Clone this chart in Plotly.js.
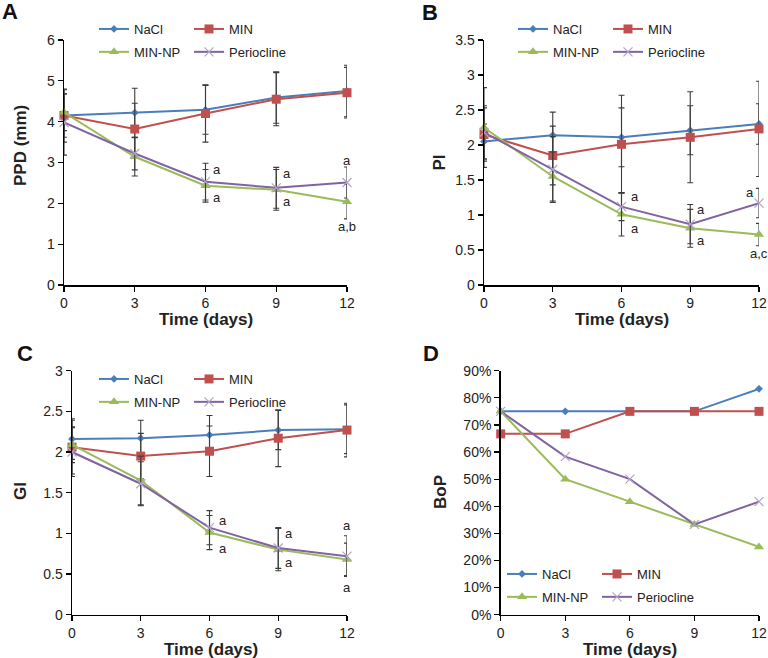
<!DOCTYPE html>
<html>
<head>
<meta charset="utf-8">
<script src="https://cdn.plot.ly/plotly-3.0.1.min.js"></script>
<style>html,body{margin:0;padding:0;background:#fff;}#chart{width:768px;height:658px;}</style>
</head>
<body>
<div id="chart"></div>
<script>
// ---------- data ----------
const days = [0, 3, 6, 9, 12];
const seriesNames = ['NaCl', 'MIN', 'MIN-NP', 'Periocline'];
const xTitle = 'Time (days)';
const yTitles = ['PPD (mm)', 'PI', 'GI', 'BoP'];
const panelLetters = ['A', 'B', 'C', 'D'];

// Panel A: PPD (mm)
const ppdNaCl  = [4.15, 4.22, 4.29, 4.59, 4.75];
const ppdMIN   = [4.15, 3.82, 4.20, 4.55, 4.71];
const ppdNP    = [4.23, 3.14, 2.43, 2.33, 2.04];
const ppdPerio = [3.98, 3.22, 2.53, 2.38, 2.51];
const ppdNaClErr  = [0.65, 0.60, 0.60, 0.63, 0.63];
const ppdMINErr   = [0.53, 0.63, 0.70, 0.65, 0.62];
const ppdNPErr    = [0.45, 0.47, 0.40, 0.50, 0.42];
const ppdPerioErr = [0.80, 0.40, 0.45, 0.50, 0.38];

// Panel B: PI
const piNaCl  = [2.05, 2.14, 2.11, 2.21, 2.30];
const piMIN   = [2.15, 1.85, 2.01, 2.11, 2.23];
const piNP    = [2.25, 1.55, 1.01, 0.81, 0.72];
const piPerio = [2.18, 1.65, 1.12, 0.87, 1.17];
const piNaClErr  = [0.25, 0.33, 0.42, 0.35, 0.29];
const piMINErr   = [0.38, 0.42, 0.70, 0.65, 0.68];
const piNPErr    = [0.57, 0.35, 0.31, 0.27, 0.16];
const piPerioErr = [0.38, 0.47, 0.20, 0.28, 0.21];

// Panel C: GI
const giNaCl  = [2.16, 2.17, 2.21, 2.27, 2.28];
const giMIN   = [2.06, 1.95, 2.01, 2.17, 2.27];
const giNP    = [2.09, 1.65, 1.01, 0.80, 0.68];
const giPerio = [2.00, 1.61, 1.07, 0.82, 0.72];
const giNaClErr  = [0.25, 0.22, 0.24, 0.24, 0.30];
const giMINErr   = [0.33, 0.28, 0.31, 0.35, 0.33];
const giNPErr    = [0.22, 0.30, 0.21, 0.26, 0.20];
const giPerioErr = [0.30, 0.27, 0.21, 0.25, 0.25];

// Panel D: BoP
const bopNaCl  = [0.75, 0.75, 0.75, 0.75, 0.833];
const bopMIN   = [0.667, 0.667, 0.75, 0.75, 0.75];
const bopNP    = [0.75, 0.50, 0.417, 0.333, 0.25];
const bopPerio = [0.75, 0.583, 0.50, 0.333, 0.417];

// significance labels: [day, value, text]
const sigA = [[6.47, 2.82, 'a'], [6.47, 2.15, 'a'], [9.46, 2.72, 'a'], [9.46, 2.04, 'a'], [12, 3.06, 'a'], [12, 1.43, 'a,b']];
const sigB = [[6.57, 1.26, 'a'], [6.57, 0.81, 'a'], [9.48, 1.08, 'a'], [9.48, 0.64, 'a'], [11.62, 1.32, 'a'], [12, 0.45, 'a,c']];
const sigC = [[6.57, 1.16, 'a'], [6.57, 0.81, 'a'], [9.45, 1.00, 'a'], [9.45, 0.64, 'a'], [12, 1.10, 'a'], [12, 0.33, 'a']];

// ---------- styling ----------
const FONT = '"Liberation Sans", Arial, Helvetica, sans-serif';
const TXT = '#222';
const styles = [
  {color: '#4A7EBB', symbol: 'diamond', size: 6, lineColor: '#4A7EBB', lw: 0},
  {color: '#C0504D', symbol: 'square', size: 9, lineColor: '#C0504D', lw: 0},
  {color: '#9BBB59', symbol: 'triangle-up', size: 9, lineColor: '#9BBB59', lw: 0},
  {color: '#B3A2C7', symbol: 'x-thin', size: 9, lineColor: '#B3A2C7', lw: 1.2}
];
const lineColors = ['#4A7EBB', '#C0504D', '#9BBB59', '#8064A2'];

const panels = [
  {vals: [ppdNaCl, ppdMIN, ppdNP, ppdPerio], errs: [ppdNaClErr, ppdMINErr, ppdNPErr, ppdPerioErr]},
  {vals: [piNaCl, piMIN, piNP, piPerio], errs: [piNaClErr, piMINErr, piNPErr, piPerioErr]},
  {vals: [giNaCl, giMIN, giNP, giPerio], errs: [giNaClErr, giMINErr, giNPErr, giPerioErr]},
  {vals: [bopNaCl, bopMIN, bopNP, bopPerio], errs: null}
];

const traces = [];
panels.forEach((p, pi) => {
  const xa = pi === 0 ? 'x' : 'x' + (pi + 1);
  const ya = pi === 0 ? 'y' : 'y' + (pi + 1);
  const col1 = (2 * pi + 1) === 1 ? 'legend' : 'legend' + (2 * pi + 1);
  const col2 = 'legend' + (2 * pi + 2);
  p.vals.forEach((v, si) => {
    const st = styles[si];
    const t = {
      type: 'scatter', mode: 'lines+markers',
      x: days, y: v, name: seriesNames[si],
      xaxis: xa, yaxis: ya,
      legend: (si === 0 || si === 2) ? col1 : col2,
      legendgroup: 'p' + pi + 's' + si,
      cliponaxis: false,
      line: {color: lineColors[si], width: 2},
      marker: {color: st.color, symbol: st.symbol, size: st.size,
               line: {color: st.lineColor, width: st.lw}}
    };
    if (p.errs) {
      t.error_y = {type: 'data', array: p.errs[si], visible: true,
                   color: '#3c3c3c', thickness: 1.1, width: 3};
    }
    traces.push(t);
  });
});

function yAxis(domain, range, dtick, extra) {
  return Object.assign({
    domain: domain, range: range, dtick: dtick, tick0: 0,
    showgrid: false, zeroline: false, showline: true, linecolor: '#000', linewidth: 1.5,
    ticks: 'outside', ticklen: 5, tickcolor: '#000', tickwidth: 1.2,
    tickfont: {family: FONT, size: 14, color: TXT},
    fixedrange: true
  }, extra || {});
}
function xAxis(domain, anchor) {
  return {
    domain: domain, anchor: anchor, range: [0, 12], dtick: 3, tick0: 0,
    showgrid: false, zeroline: false, showline: true, linecolor: '#000', linewidth: 1.5,
    ticks: 'outside', ticklen: 5, tickcolor: '#000', tickwidth: 1.2,
    tickfont: {family: FONT, size: 14, color: TXT},
    fixedrange: true
  };
}

const W = 768, H = 658;
const px = v => v / W;
const py = v => 1 - v / H;

const layout = {
  width: W, height: H,
  margin: {l: 0, r: 0, t: 0, b: 0},
  paper_bgcolor: '#fff', plot_bgcolor: 'rgba(0,0,0,0)',
  font: {family: FONT, color: TXT},
  xaxis:  xAxis([px(64), px(347)], 'y'),
  yaxis:  yAxis([py(285), py(40)], [0, 6], 1, {anchor: 'x'}),
  xaxis2: xAxis([px(484), px(759)], 'y2'),
  yaxis2: yAxis([py(285), py(40)], [0, 3.5], 0.5, {anchor: 'x2'}),
  xaxis3: xAxis([px(72), px(347)], 'y3'),
  yaxis3: yAxis([py(614.7), py(370.7)], [0, 3], 0.5, {anchor: 'x3'}),
  xaxis4: xAxis([px(500.7), px(759)], 'y4'),
  yaxis4: yAxis([py(614.7), py(370.7)], [0, 0.9], 0.1, {anchor: 'x4', tickformat: '.0%'}),
  annotations: [],
  showlegend: true
};

// legends: two columns per panel
const legendPos = [
  [94, 14], [189, 14],      // A
  [513, 14], [608, 14],     // B
  [94, 364], [189, 364],    // C
  [502, 559], [597, 559]    // D
];
legendPos.forEach((pos, i) => {
  const key = i === 0 ? 'legend' : 'legend' + (i + 1);
  layout[key] = {
    x: px(pos[0]), y: py(pos[1]), xanchor: 'left', yanchor: 'top',
    orientation: 'v', traceorder: 'grouped', tracegroupgap: 3,
    bgcolor: 'rgba(0,0,0,0)', borderwidth: 0, itemwidth: 30,
    font: {family: FONT, size: 13, color: TXT}
  };
});

const titleFont = {family: FONT, size: 17, color: TXT, weight: 'bold'};

// axis titles (placed as annotations for exact positioning)
const xTitlePos = [[206, 319.5], [621.6, 319.5], [210.5, 649], [629.9, 649]];
xTitlePos.forEach(p => {
  layout.annotations.push({
    text: xTitle, xref: 'paper', yref: 'paper', x: px(p[0]), y: py(p[1]),
    xanchor: 'center', yanchor: 'middle', showarrow: false, font: titleFont
  });
});
const yTitlePos = [[20, 146], [439, 162.5], [20, 491], [440, 492]];
yTitlePos.forEach((p, i) => {
  layout.annotations.push({
    text: yTitles[i], xref: 'paper', yref: 'paper', x: px(p[0]), y: py(p[1]),
    xanchor: 'center', yanchor: 'middle', textangle: -90, showarrow: false, font: titleFont
  });
});

// panel letters
const letterPos = [[10, 12], [430, 13], [25, 353], [431, 353]];
letterPos.forEach((p, i) => {
  layout.annotations.push({
    text: panelLetters[i], xref: 'paper', yref: 'paper', x: px(p[0]), y: py(p[1]),
    xanchor: 'center', yanchor: 'middle', showarrow: false,
    font: {family: FONT, size: 22, color: '#111', weight: 'bold'}
  });
});

// significance labels
[[sigA, 'x', 'y'], [sigB, 'x2', 'y2'], [sigC, 'x3', 'y3']].forEach(g => {
  g[0].forEach(s => {
    layout.annotations.push({
      text: s[2], xref: g[1], yref: g[2], x: s[0], y: s[1],
      xanchor: 'center', yanchor: 'middle', showarrow: false,
      font: {family: FONT, size: 13, color: TXT}
    });
  });
});

Plotly.newPlot('chart', traces, layout, {displayModeBar: false, staticPlot: true});
</script>
</body>
</html>
